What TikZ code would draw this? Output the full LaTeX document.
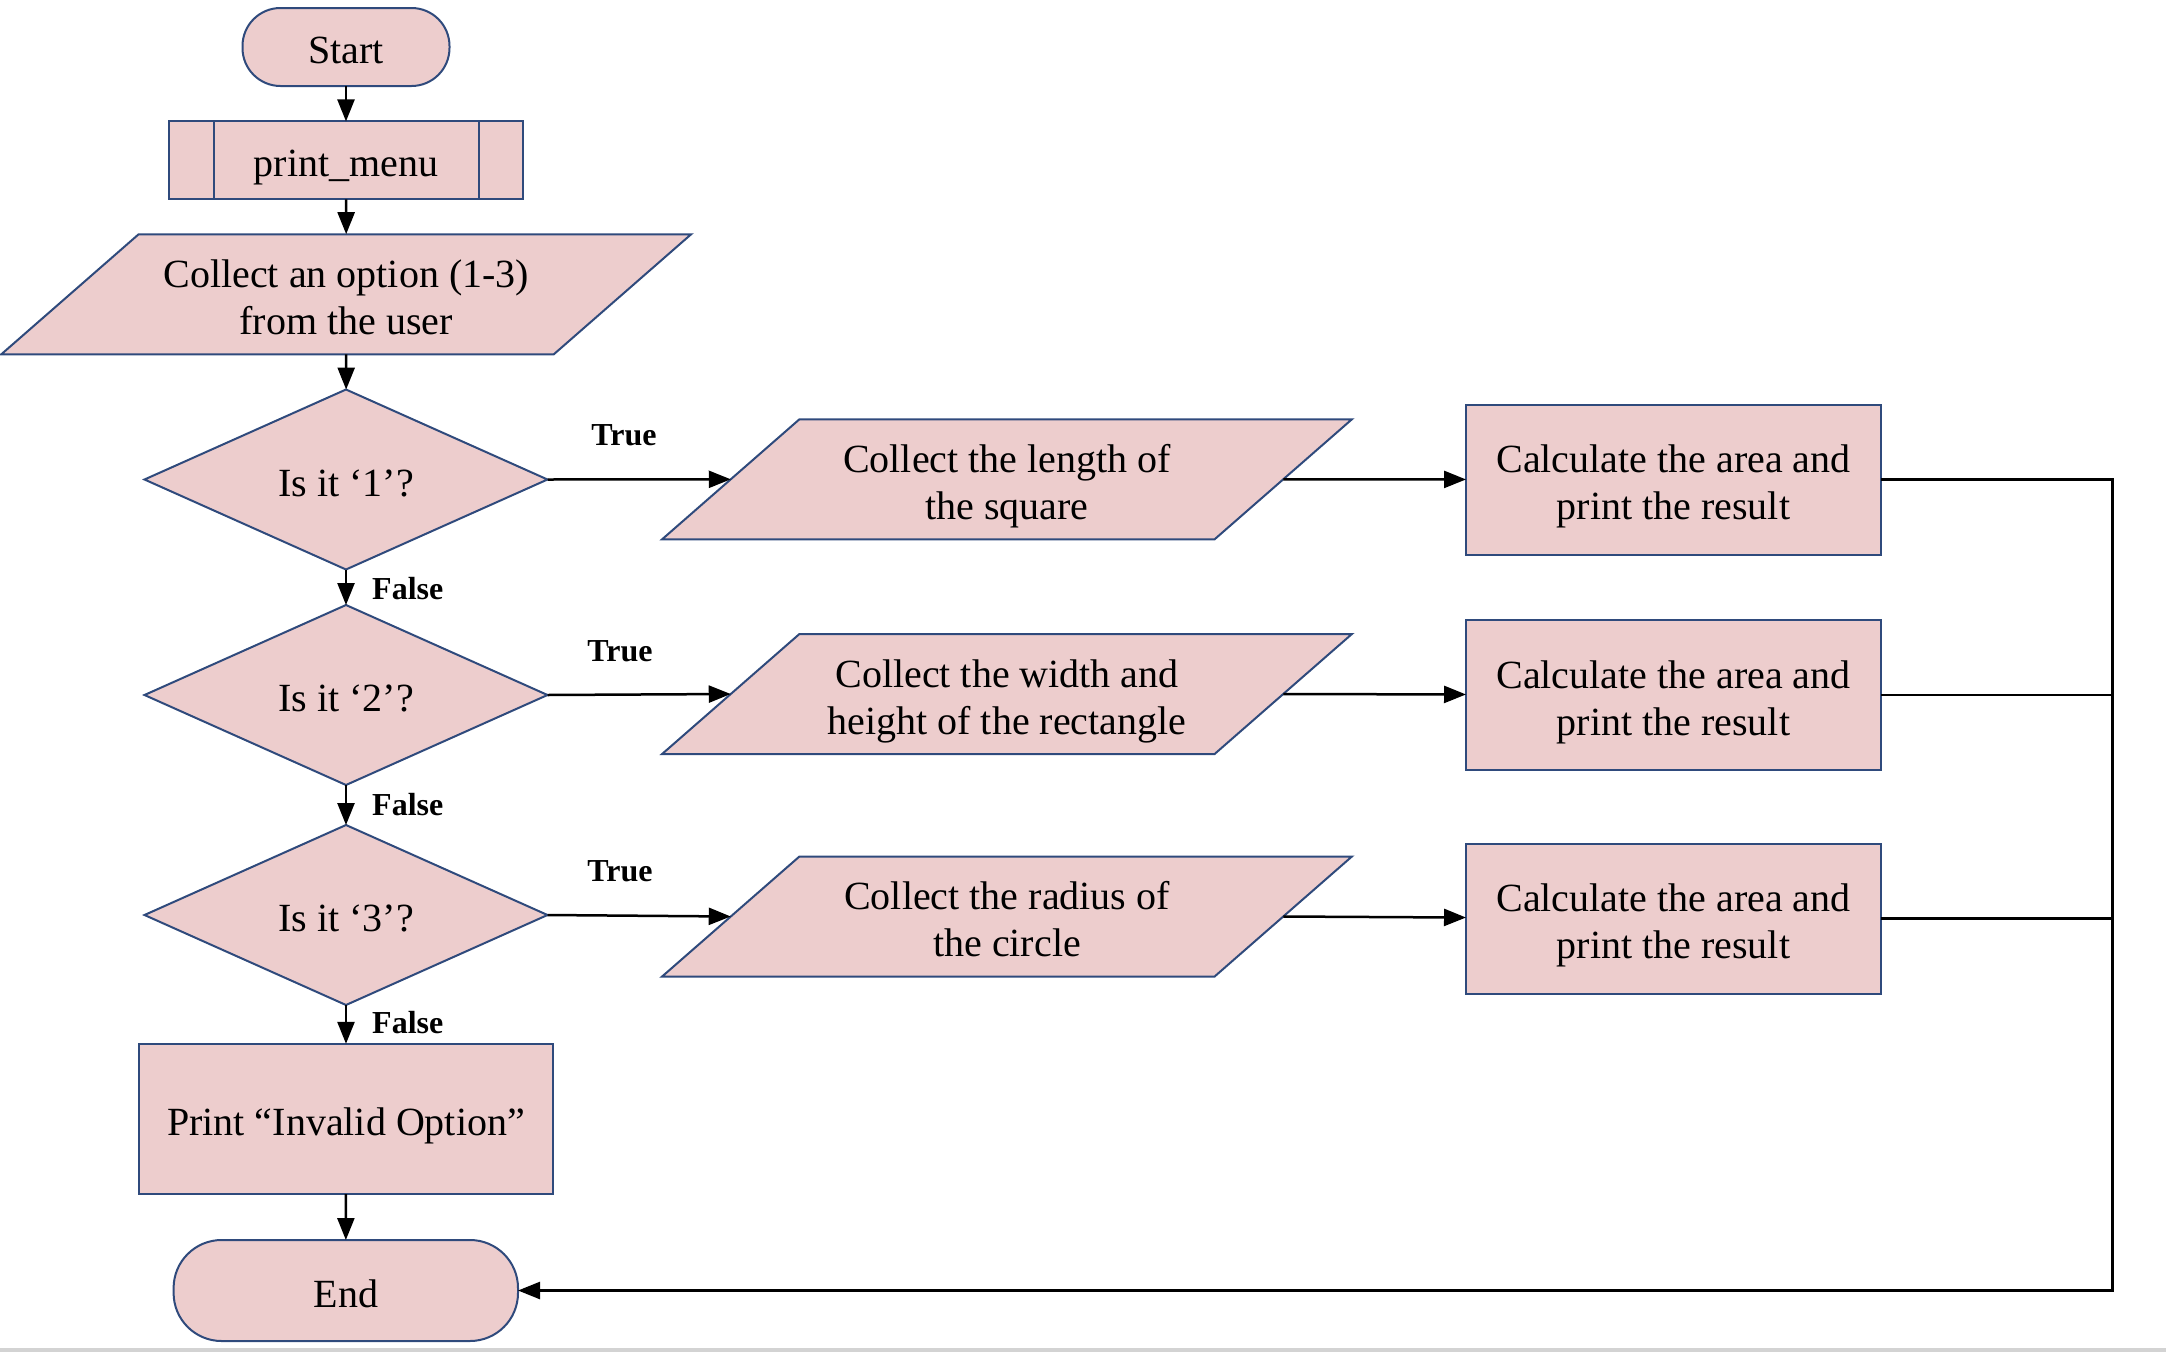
\documentclass[tikz,border=0pt]{standalone}
\usepackage{fontspec}
\setmainfont{Liberation Serif}
\usetikzlibrary{shapes.geometric,arrows.meta,backgrounds}
\definecolor{fillc}{RGB}{237,205,205}
\definecolor{bordc}{RGB}{47,74,124}
\definecolor{stripc}{RGB}{211,211,211}
\newcommand\tl[1]{\rule[-2.64pt]{0pt}{38.28pt}\smash{#1}}
\tikzset{
  base/.style={draw=bordc, fill=fillc, line width=2pt, inner sep=0pt, outer sep=0pt,
    font=\fontsize{40}{47}\selectfont, align=center},
  termbox/.style={base, rectangle, rounded corners=#1},
  procbox/.style={base, rectangle, minimum width=415pt, minimum height=150pt},
  iobody/.style={base, rectangle, draw=none, fill=none, minimum width=552.5pt, minimum height=120pt},
  ioshape/.style={draw=bordc, fill=fillc, line width=2pt, line join=miter},
  decbox/.style={base, diamond, minimum width=403pt, minimum height=180pt},
  lbl/.style={font=\fontsize{32}{36}\selectfont\bfseries, inner sep=0pt},
  conn/.style={line width=2.5pt, black},
  arr/.style={conn, -{Triangle[length=22pt,width=17pt]}},
}
\newcommand\iopath[1]{%
  \path[ioshape] ([xshift=-68.65pt]#1.south west) -- ([xshift=68.65pt]#1.north west)
    -- ([xshift=68.65pt]#1.north east) -- ([xshift=-68.65pt]#1.south east) -- cycle;}
\begin{document}
\begin{tikzpicture}[x=1pt,y=-1pt]
\useasboundingbox (0,0) rectangle (2166,1352);
\fill[stripc] (0,1348) rectangle (2166,1352);

\node[termbox=38pt, minimum width=207pt, minimum height=78pt] (start) at (346,47) {\tl{Start}};
\node[base, rectangle, minimum width=354pt, minimum height=78pt] (pm) at (346,160.4) {\tl{print\_menu}};
\draw[draw=bordc, line width=2pt] ([xshift=44.5pt]pm.north west) -- ([xshift=44.5pt]pm.south west);
\draw[draw=bordc, line width=2pt] ([xshift=-44.5pt]pm.north east) -- ([xshift=-44.5pt]pm.south east);
\node[iobody] (opt) at (346.2,294.3) {\tl{Collect an option (1-3)}\\\tl{from the user}};

\node[decbox] (d1) at (346,479.5) {\tl{Is it ‘1’?}};
\node[decbox] (d2) at (346,695) {\tl{Is it ‘2’?}};
\node[decbox] (d3) at (346,915) {\tl{Is it ‘3’?}};
\node[procbox, minimum width=414.6pt, minimum height=150.4pt] (inv) at (346,1119) {\tl{Print “Invalid Option”}};
\node[termbox=48pt, minimum width=344.4pt, minimum height=101pt] (end) at (345.8,1290.5) {\tl{End}};

\node[iobody] (p1) at (1007,479.3) {\tl{Collect the length of}\\\tl{the square}};
\node[iobody] (p2) at (1007,694) {\tl{Collect the width and}\\\tl{height of the rectangle}};
\node[iobody] (p3) at (1007,916.5) {\tl{Collect the radius of}\\\tl{the circle}};

\begin{scope}[on background layer]
\iopath{opt}
\iopath{p1}
\iopath{p2}
\iopath{p3}
\end{scope}

\node[procbox] (b1) at (1673.5,479.6) {\tl{Calculate the area and}\\\tl{print the result}};
\node[procbox] (b2) at (1673.5,695) {\tl{Calculate the area and}\\\tl{print the result}};
\node[procbox] (b3) at (1673.5,918.7) {\tl{Calculate the area and}\\\tl{print the result}};

\node[lbl, anchor=base] (t1) at (624,445.8) {True};
\node[lbl, anchor=base] (t2) at (620,661) {True};
\node[lbl, anchor=base] (t3) at (620,881) {True};
\node[lbl, anchor=base west] (f1) at (372,599) {False};
\node[lbl, anchor=base west] (f2) at (372,815) {False};
\node[lbl, anchor=base west] (f3) at (372,1033) {False};

\coordinate (rt) at (2112.5,479.6);
\coordinate (rb) at (2112.5,1290.5);

\draw[arr] (start) -- (pm);
\draw[arr] (pm) -- (opt.north |- 0,234.2);
\draw[arr] (opt.south |- 0,354.4) -- (d1);
\draw[arr] (d1) -- (d2);
\draw[arr] (d2) -- (d3);
\draw[arr] (d3) -- (inv);
\draw[arr] (inv) -- (end);

\draw[arr] (d1.east) -- (p1.west);
\draw[arr] (d2.east) -- (p2.west);
\draw[arr] (d3.east) -- (p3.west);
\draw[arr] (p1.east) -- (b1);
\draw[arr] (p2.east) -- (b2);
\draw[arr] (p3.east) -- (b3);

\draw[conn] (b2.east) -- (b2.east -| rt);
\draw[conn] (b3.east) -- (b3.east -| rt);
\draw[arr, line join=miter] (b1.east) -- (rt) -- (rb) -- (end.east);
\end{tikzpicture}
\end{document}
